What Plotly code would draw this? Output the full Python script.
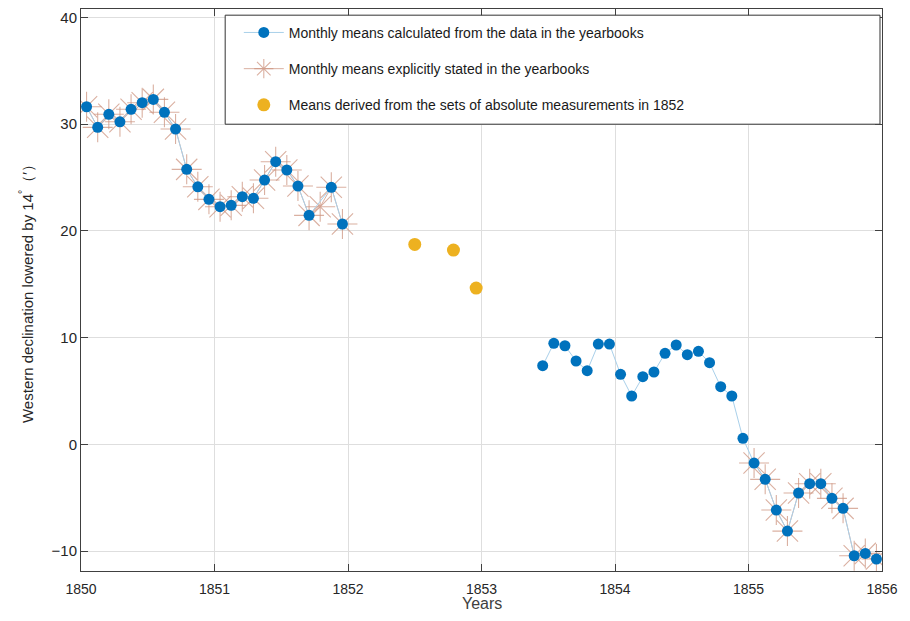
import plotly.graph_objects as go

# monthly means, western declination minus 14 deg (arc minutes)
years_a = [1850] * 12 + [1851] * 12
months_a = list(range(1, 13)) * 2
calc_a = [31.64, 29.71, 30.93, 30.23, 31.40, 32.02, 32.33, 31.12, 29.55, 25.77, 24.14, 22.96,
          22.27, 22.40, 23.21, 23.06, 24.77, 26.49, 25.71, 24.21, 21.46, None, 24.09, 20.65]
stated_a = [31.64, 29.71, 30.93, 30.23, 31.40, 32.02, 32.33, 31.12, 29.55, 25.77, 24.14, 22.96,
            22.27, 22.40, 23.21, 23.06, 24.77, 26.49, 25.71, 24.21, 21.46, 22.27, 24.09, 20.65]

years_b = [1853] * 7 + [1854] * 12 + [1855] * 12
months_b = list(range(6, 13)) + list(range(1, 13)) * 2
calc_b = [7.37, 9.47, 9.24, 7.81, 6.90, 9.40, 9.40,
          6.56, 4.53, 6.34, 6.78, 8.53, 9.31, 8.40, 8.72, 7.65, 5.40, 4.53, 0.56,
          -1.75, -3.28, -6.16, -8.13, -4.56, -3.69, -3.69, -5.06, -6.00, -10.44, -10.22, -10.75]

years_c = [1855] * 12
months_c = list(range(1, 13))
stated_c = [-1.75, -3.28, -6.16, -8.13, -4.56, -3.69, -3.69, -5.06, -6.00, -10.44, -10.22, -10.75]

abs_x = [1852.50, 1852.79, 1852.96]
abs_y = [18.74, 18.21, 14.65]

x_ticks = [1850, 1851, 1852, 1853, 1854, 1855, 1856]
y_ticks = [-10, 0, 10, 20, 30, 40]


def dec(years, months):
    return [y + (m - 0.5) / 12 for y, m in zip(years, months)]


xa, xb, xc = dec(years_a, months_a), dec(years_b, months_b), dec(years_c, months_c)

# calculated series: skip missing month inside a segment, break between segments
calc_x, calc_y = [], []
for x, v in zip(xa, calc_a):
    if v is not None:
        calc_x.append(x); calc_y.append(v)
calc_x.append(None); calc_y.append(None)
calc_x += xb; calc_y += calc_b

stated_x = xa + [None] + xc
stated_y = stated_a + [None] + stated_c

fig = go.Figure()
fig.add_trace(go.Scatter(
    x=stated_x, y=stated_y, mode='lines+markers', connectgaps=False,
    name='Monthly means explicitly stated in the yearbooks', legendrank=2, legendgroup='b',
    line=dict(color='rgba(205,150,130,0.75)', width=1),
    marker=dict(symbol='asterisk-open', size=25, line=dict(color='rgba(248,145,115,0.55)', width=1.1))))
fig.add_trace(go.Scatter(
    x=calc_x, y=calc_y, mode='lines+markers', connectgaps=False,
    name='Monthly means calculated from the data in the yearbooks', legendrank=1, legendgroup='a',
    line=dict(color='#a9d0ea', width=1),
    marker=dict(size=11, color='#0072BD')))
fig.add_trace(go.Scatter(
    x=abs_x, y=abs_y, mode='markers',
    name='Means derived from the sets of absolute measurements in 1852', legendrank=3, legendgroup='c',
    marker=dict(size=13, color='#EDB120')))

fig.add_shape(type='rect', xref='paper', yref='paper', x0=0.18, x1=0.9975, y0=0.795, y1=0.989,
              line=dict(color='#333333', width=1), fillcolor='white', layer='above')

# x-axis title placed by hand (fixed margins ignore title standoff)
fig.add_annotation(text='Years', xref='paper', yref='paper', x=0.5, y=-0.058,
                   xanchor='center', yanchor='middle', showarrow=False,
                   font=dict(size=16, color='#404040'))

axis_c = '#262626'
fig.update_xaxes(range=[1850, 1856], tickvals=x_ticks, ticktext=[str(t) for t in x_ticks],
                 showgrid=True, gridcolor='#dedede', zeroline=False,
                 showline=True, linecolor='#404040', mirror='ticks', ticks='inside', ticklen=7,
                 tickcolor='#404040', tickfont=dict(size=14, color=axis_c), ticklabelstandoff=5)
fig.update_yaxes(range=[-11.87, 40.8], tickvals=y_ticks,
                 showgrid=True, gridcolor='#dedede', zeroline=False,
                 showline=True, linecolor='#404040', mirror='ticks', ticks='inside', ticklen=7,
                 tickcolor='#404040', tickfont=dict(size=15, color=axis_c),
                 title=dict(text='Western declination lowered by 14<sup>°</sup>（′）',
                            font=dict(size=15, color=axis_c), standoff=14))
# page body adds an 8px margin, so the figure is sized to fit inside it
fig.update_layout(
    width=894, height=605, margin=dict(l=73, r=20, t=1, b=42, autoexpand=False),
    paper_bgcolor='white', plot_bgcolor='white',
    font=dict(family='Liberation Sans, Arial, sans-serif', color=axis_c),
    legend=dict(x=0.197, y=0.986, xanchor='left', yanchor='top', bgcolor='rgba(0,0,0,0)',
                borderwidth=0, font=dict(size=14, color='#1a1a1a'), itemwidth=40,
                tracegroupgap=15, traceorder='grouped'),
)
fig.write_html("out.html")
